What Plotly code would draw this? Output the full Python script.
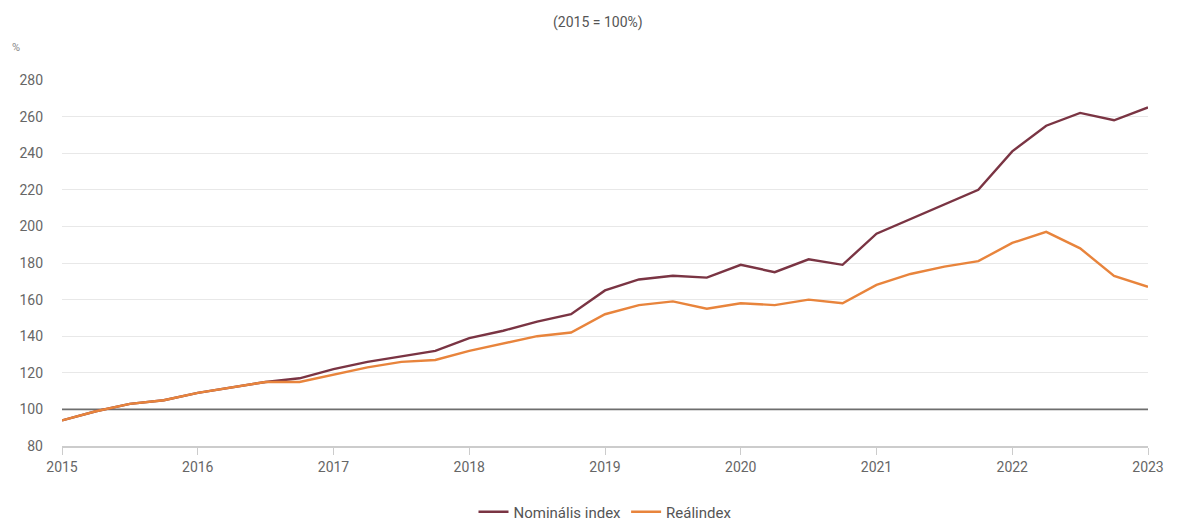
import plotly.graph_objects as go

# Quarterly time points (fractional years)
quarters = [2015 + i * 0.25 for i in range(33)]

nominal_index = [
    94, 99, 103, 105, 109, 112, 115, 117,
    122, 126, 129, 132, 139, 143, 148, 152,
    165, 171, 173, 172, 179, 175, 182, 179,
    196, 204, 212, 220, 241, 255, 262, 258,
    265,
]
real_index = [
    94, 99, 103, 105, 109, 112, 115, 115,
    119, 123, 126, 127, 132, 136, 140, 142,
    152, 157, 159, 155, 158, 157, 160, 158,
    168, 174, 178, 181, 191, 197, 188, 173,
    167,
]

year_ticks = list(range(2015, 2024))
y_ticks = list(range(80, 281, 20))
base_level = 100

fig = go.Figure()

fig.add_trace(go.Scatter(
    x=quarters, y=nominal_index, mode="lines", name="Nominális index",
    line=dict(color="#7a3443", width=2.4),
))
fig.add_trace(go.Scatter(
    x=quarters, y=real_index, mode="lines", name="Reálindex",
    line=dict(color="#e8843c", width=2.4),
))

# Reference line at the base level, drawn over the grid but under the series
fig.add_shape(
    type="line", xref="x", yref="y",
    x0=year_ticks[0], x1=year_ticks[-1], y0=base_level, y1=base_level,
    line=dict(color="#6e6e6e", width=1.8), layer="between",
)

fig.update_layout(
    width=1177, height=524,
    margin=dict(l=62, r=29, t=80, b=78, autoexpand=False),
    paper_bgcolor="white", plot_bgcolor="white",
    font=dict(family="Roboto, sans-serif", size=14, color="#666666"),
    showlegend=True,
    legend=dict(
        orientation="h", x=0.5, xanchor="center",
        y=-(512 - 446) / (524 - 80 - 78), yanchor="middle", yref="paper",
        font=dict(size=15, color="#555555"), itemwidth=30,
    ),
    annotations=[
        dict(text="(2015 = 100%)", xref="paper", yref="paper",
             x=0.494, y=1.0, yshift=68, showarrow=False,
             font=dict(size=14, color="#555555")),
        dict(text="%", xref="paper", yref="paper", x=0, xshift=-52,
             y=1.0, yshift=41, xanchor="left", showarrow=False,
             font=dict(size=11, color="#888888")),
    ],
)

fig.update_xaxes(
    range=[year_ticks[0], year_ticks[-1]],
    tickvals=year_ticks, ticktext=[str(y) for y in year_ticks],
    showgrid=False, zeroline=False,
    showline=True, linecolor="#cccccc", linewidth=1.5,
    ticks="outside", ticklen=7, tickcolor="#cccccc",
    tickfont=dict(size=14, color="#666666"),
)
fig.update_yaxes(
    range=[80, 280], tickvals=y_ticks,
    showgrid=True, gridcolor="#e8e8e8", gridwidth=1.2,
    zeroline=False, showline=False,
    ticks="", ticklabelstandoff=18,
    tickfont=dict(size=14, color="#666666"),
)

fig.write_html("out.html")
